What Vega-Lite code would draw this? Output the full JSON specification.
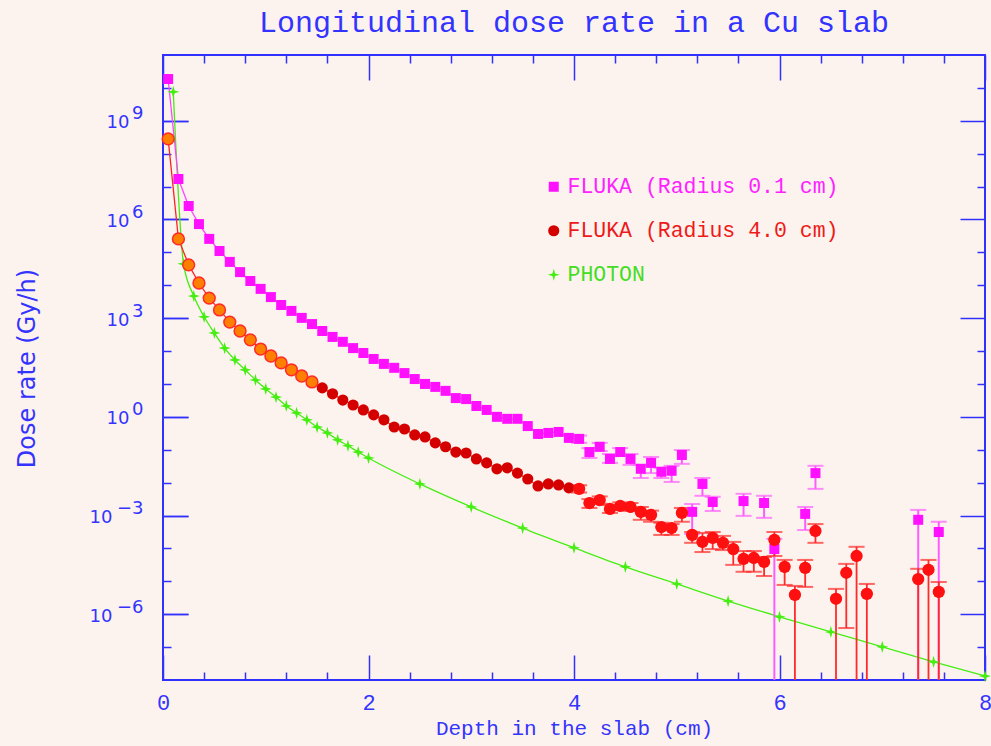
{
  "$schema": "https://vega.github.io/schema/vega-lite/v6.json",
  "width": 822,
  "height": 625,
  "autosize": {"type": "none"},
  "padding": {"left": 163, "top": 55, "right": 6, "bottom": 66},
  "background": "#fdf3ee",
  "title": {
    "text": "Longitudinal dose rate in a Cu slab",
    "font": "Liberation Mono",
    "fontSize": 30,
    "fontWeight": "normal",
    "color": "#3333ff",
    "anchor": "middle",
    "frame": "group",
    "baseline": "alphabetic",
    "offset": 22,
    "dy": 30
  },
  "data": {
    "values": [
      {"series": "FLUKA (Radius 0.1 cm)", "depth": 0.05, "dose": 1.86e10},
      {"series": "FLUKA (Radius 0.1 cm)", "depth": 0.15, "dose": 1.70e7},
      {"series": "FLUKA (Radius 0.1 cm)", "depth": 0.25, "dose": 2.57e6},
      {"series": "FLUKA (Radius 0.1 cm)", "depth": 0.35, "dose": 7.24e5},
      {"series": "FLUKA (Radius 0.1 cm)", "depth": 0.45, "dose": 2.57e5},
      {"series": "FLUKA (Radius 0.1 cm)", "depth": 0.55, "dose": 1.10e5},
      {"series": "FLUKA (Radius 0.1 cm)", "depth": 0.65, "dose": 5.13e4},
      {"series": "FLUKA (Radius 0.1 cm)", "depth": 0.75, "dose": 2.51e4},
      {"series": "FLUKA (Radius 0.1 cm)", "depth": 0.85, "dose": 1.35e4},
      {"series": "FLUKA (Radius 0.1 cm)", "depth": 0.95, "dose": 7760},
      {"series": "FLUKA (Radius 0.1 cm)", "depth": 1.05, "dose": 4370},
      {"series": "FLUKA (Radius 0.1 cm)", "depth": 1.15, "dose": 2510},
      {"series": "FLUKA (Radius 0.1 cm)", "depth": 1.25, "dose": 1660},
      {"series": "FLUKA (Radius 0.1 cm)", "depth": 1.35, "dose": 1020},
      {"series": "FLUKA (Radius 0.1 cm)", "depth": 1.45, "dose": 661},
      {"series": "FLUKA (Radius 0.1 cm)", "depth": 1.55, "dose": 407},
      {"series": "FLUKA (Radius 0.1 cm)", "depth": 1.65, "dose": 269},
      {"series": "FLUKA (Radius 0.1 cm)", "depth": 1.75, "dose": 191},
      {"series": "FLUKA (Radius 0.1 cm)", "depth": 1.85, "dose": 123},
      {"series": "FLUKA (Radius 0.1 cm)", "depth": 1.95, "dose": 87.1},
      {"series": "FLUKA (Radius 0.1 cm)", "depth": 2.05, "dose": 57.5},
      {"series": "FLUKA (Radius 0.1 cm)", "depth": 2.15, "dose": 40.7},
      {"series": "FLUKA (Radius 0.1 cm)", "depth": 2.25, "dose": 30.9},
      {"series": "FLUKA (Radius 0.1 cm)", "depth": 2.35, "dose": 21.4},
      {"series": "FLUKA (Radius 0.1 cm)", "depth": 2.45, "dose": 14.1},
      {"series": "FLUKA (Radius 0.1 cm)", "depth": 2.55, "dose": 10.0},
      {"series": "FLUKA (Radius 0.1 cm)", "depth": 2.65, "dose": 8.13},
      {"series": "FLUKA (Radius 0.1 cm)", "depth": 2.75, "dose": 6.17},
      {"series": "FLUKA (Radius 0.1 cm)", "depth": 2.85, "dose": 3.72},
      {"series": "FLUKA (Radius 0.1 cm)", "depth": 2.95, "dose": 3.47},
      {"series": "FLUKA (Radius 0.1 cm)", "depth": 3.05, "dose": 2.14},
      {"series": "FLUKA (Radius 0.1 cm)", "depth": 3.15, "dose": 1.62},
      {"series": "FLUKA (Radius 0.1 cm)", "depth": 3.25, "dose": 1.0},
      {"series": "FLUKA (Radius 0.1 cm)", "depth": 3.35, "dose": 0.871},
      {"series": "FLUKA (Radius 0.1 cm)", "depth": 3.45, "dose": 0.871},
      {"series": "FLUKA (Radius 0.1 cm)", "depth": 3.55, "dose": 0.525},
      {"series": "FLUKA (Radius 0.1 cm)", "depth": 3.65, "dose": 0.302},
      {"series": "FLUKA (Radius 0.1 cm)", "depth": 3.75, "dose": 0.324},
      {"series": "FLUKA (Radius 0.1 cm)", "depth": 3.85, "dose": 0.347},
      {"series": "FLUKA (Radius 0.1 cm)", "depth": 3.95, "dose": 0.229},
      {"series": "FLUKA (Radius 0.1 cm)", "depth": 4.05, "dose": 0.214, "hi": 0.269, "lo": 0.162},
      {"series": "FLUKA (Radius 0.1 cm)", "depth": 4.15, "dose": 0.0851, "hi": 0.112, "lo": 0.0562},
      {"series": "FLUKA (Radius 0.1 cm)", "depth": 4.25, "dose": 0.123, "hi": 0.162, "lo": 0.0912},
      {"series": "FLUKA (Radius 0.1 cm)", "depth": 4.35, "dose": 0.0525, "hi": 0.0741, "lo": 0.0398},
      {"series": "FLUKA (Radius 0.1 cm)", "depth": 4.45, "dose": 0.0851, "hi": 0.112, "lo": 0.0646},
      {"series": "FLUKA (Radius 0.1 cm)", "depth": 4.55, "dose": 0.0525, "hi": 0.0741, "lo": 0.0347},
      {"series": "FLUKA (Radius 0.1 cm)", "depth": 4.65, "dose": 0.0263, "hi": 0.0347, "lo": 0.0138},
      {"series": "FLUKA (Radius 0.1 cm)", "depth": 4.75, "dose": 0.0398, "hi": 0.0603, "lo": 0.0195},
      {"series": "FLUKA (Radius 0.1 cm)", "depth": 4.85, "dose": 0.0214, "hi": 0.0282, "lo": 0.0138},
      {"series": "FLUKA (Radius 0.1 cm)", "depth": 4.95, "dose": 0.0229, "hi": 0.0324, "lo": 0.0105},
      {"series": "FLUKA (Radius 0.1 cm)", "depth": 5.05, "dose": 0.0692, "hi": 0.0977, "lo": 0.0372},
      {"series": "FLUKA (Radius 0.1 cm)", "depth": 5.15, "dose": 0.00129, "hi": 0.00224, "lo": 0.000275},
      {"series": "FLUKA (Radius 0.1 cm)", "depth": 5.25, "dose": 0.00912, "hi": 0.0138, "lo": 0.00398},
      {"series": "FLUKA (Radius 0.1 cm)", "depth": 5.35, "dose": 0.00257, "hi": 0.00372, "lo": 0.00138},
      {"series": "FLUKA (Radius 0.1 cm)", "depth": 5.65, "dose": 0.00275, "hi": 0.00457, "lo": 0.000977},
      {"series": "FLUKA (Radius 0.1 cm)", "depth": 5.85, "dose": 0.0024, "hi": 0.00398, "lo": 0.000851},
      {"series": "FLUKA (Radius 0.1 cm)", "depth": 5.95, "dose": 0.0000955, "hi": 0.000195, "lo": 1e-12},
      {"series": "FLUKA (Radius 0.1 cm)", "depth": 6.25, "dose": 0.00112, "hi": 0.00182, "lo": 0.000363},
      {"series": "FLUKA (Radius 0.1 cm)", "depth": 6.35, "dose": 0.0195, "hi": 0.0324, "lo": 0.00646},
      {"series": "FLUKA (Radius 0.1 cm)", "depth": 7.35, "dose": 0.000741, "hi": 0.00148, "lo": 1e-12},
      {"series": "FLUKA (Radius 0.1 cm)", "depth": 7.55, "dose": 0.000316, "hi": 0.000646, "lo": 1e-12},

      {"series": "FLUKA (Radius 4.0 cm)", "depth": 0.05, "dose": 2.82e8},
      {"series": "FLUKA (Radius 4.0 cm)", "depth": 0.15, "dose": 2.57e5},
      {"series": "FLUKA (Radius 4.0 cm)", "depth": 0.25, "dose": 4.17e4},
      {"series": "FLUKA (Radius 4.0 cm)", "depth": 0.35, "dose": 1.17e4},
      {"series": "FLUKA (Radius 4.0 cm)", "depth": 0.45, "dose": 4070},
      {"series": "FLUKA (Radius 4.0 cm)", "depth": 0.55, "dose": 1780},
      {"series": "FLUKA (Radius 4.0 cm)", "depth": 0.65, "dose": 759},
      {"series": "FLUKA (Radius 4.0 cm)", "depth": 0.75, "dose": 407},
      {"series": "FLUKA (Radius 4.0 cm)", "depth": 0.85, "dose": 219},
      {"series": "FLUKA (Radius 4.0 cm)", "depth": 0.95, "dose": 115},
      {"series": "FLUKA (Radius 4.0 cm)", "depth": 1.05, "dose": 70.8},
      {"series": "FLUKA (Radius 4.0 cm)", "depth": 1.15, "dose": 43.7},
      {"series": "FLUKA (Radius 4.0 cm)", "depth": 1.25, "dose": 26.9},
      {"series": "FLUKA (Radius 4.0 cm)", "depth": 1.35, "dose": 17.4},
      {"series": "FLUKA (Radius 4.0 cm)", "depth": 1.45, "dose": 11.5},
      {"series": "FLUKA (Radius 4.0 cm)", "depth": 1.55, "dose": 7.59},
      {"series": "FLUKA (Radius 4.0 cm)", "depth": 1.65, "dose": 5.01},
      {"series": "FLUKA (Radius 4.0 cm)", "depth": 1.75, "dose": 3.24},
      {"series": "FLUKA (Radius 4.0 cm)", "depth": 1.85, "dose": 2.29},
      {"series": "FLUKA (Radius 4.0 cm)", "depth": 1.95, "dose": 1.62},
      {"series": "FLUKA (Radius 4.0 cm)", "depth": 2.05, "dose": 1.15},
      {"series": "FLUKA (Radius 4.0 cm)", "depth": 2.15, "dose": 0.813},
      {"series": "FLUKA (Radius 4.0 cm)", "depth": 2.25, "dose": 0.49},
      {"series": "FLUKA (Radius 4.0 cm)", "depth": 2.35, "dose": 0.427},
      {"series": "FLUKA (Radius 4.0 cm)", "depth": 2.45, "dose": 0.282},
      {"series": "FLUKA (Radius 4.0 cm)", "depth": 2.55, "dose": 0.245},
      {"series": "FLUKA (Radius 4.0 cm)", "depth": 2.65, "dose": 0.162},
      {"series": "FLUKA (Radius 4.0 cm)", "depth": 2.75, "dose": 0.123},
      {"series": "FLUKA (Radius 4.0 cm)", "depth": 2.85, "dose": 0.0851},
      {"series": "FLUKA (Radius 4.0 cm)", "depth": 2.95, "dose": 0.0794},
      {"series": "FLUKA (Radius 4.0 cm)", "depth": 3.05, "dose": 0.0525},
      {"series": "FLUKA (Radius 4.0 cm)", "depth": 3.15, "dose": 0.0398},
      {"series": "FLUKA (Radius 4.0 cm)", "depth": 3.25, "dose": 0.0263},
      {"series": "FLUKA (Radius 4.0 cm)", "depth": 3.35, "dose": 0.0282},
      {"series": "FLUKA (Radius 4.0 cm)", "depth": 3.45, "dose": 0.0195},
      {"series": "FLUKA (Radius 4.0 cm)", "depth": 3.55, "dose": 0.0129},
      {"series": "FLUKA (Radius 4.0 cm)", "depth": 3.65, "dose": 0.00794},
      {"series": "FLUKA (Radius 4.0 cm)", "depth": 3.75, "dose": 0.00912},
      {"series": "FLUKA (Radius 4.0 cm)", "depth": 3.85, "dose": 0.00851},
      {"series": "FLUKA (Radius 4.0 cm)", "depth": 3.95, "dose": 0.00692},
      {"series": "FLUKA (Radius 4.0 cm)", "depth": 4.05, "dose": 0.00646, "hi": 0.00832, "lo": 0.00501},
      {"series": "FLUKA (Radius 4.0 cm)", "depth": 4.15, "dose": 0.0024, "hi": 0.00316, "lo": 0.0017},
      {"series": "FLUKA (Radius 4.0 cm)", "depth": 4.25, "dose": 0.00295, "hi": 0.0038, "lo": 0.00229},
      {"series": "FLUKA (Radius 4.0 cm)", "depth": 4.35, "dose": 0.00158, "hi": 0.00209, "lo": 0.0012},
      {"series": "FLUKA (Radius 4.0 cm)", "depth": 4.45, "dose": 0.00195, "hi": 0.00251, "lo": 0.00148},
      {"series": "FLUKA (Radius 4.0 cm)", "depth": 4.55, "dose": 0.00182, "hi": 0.0024, "lo": 0.00138},
      {"series": "FLUKA (Radius 4.0 cm)", "depth": 4.65, "dose": 0.00129, "hi": 0.00182, "lo": 0.000741},
      {"series": "FLUKA (Radius 4.0 cm)", "depth": 4.75, "dose": 0.00105, "hi": 0.00141, "lo": 0.000646},
      {"series": "FLUKA (Radius 4.0 cm)", "depth": 4.85, "dose": 0.000447, "hi": 0.000603, "lo": 0.000257},
      {"series": "FLUKA (Radius 4.0 cm)", "depth": 4.95, "dose": 0.000417, "hi": 0.00055, "lo": 0.000257},
      {"series": "FLUKA (Radius 4.0 cm)", "depth": 5.05, "dose": 0.0012, "hi": 0.0017, "lo": 0.000646},
      {"series": "FLUKA (Radius 4.0 cm)", "depth": 5.15, "dose": 0.000257, "hi": 0.000316, "lo": 0.000148},
      {"series": "FLUKA (Radius 4.0 cm)", "depth": 5.25, "dose": 0.000158, "hi": 0.000295, "lo": 0.0000776},
      {"series": "FLUKA (Radius 4.0 cm)", "depth": 5.35, "dose": 0.000209, "hi": 0.000316, "lo": 0.0000955},
      {"series": "FLUKA (Radius 4.0 cm)", "depth": 5.45, "dose": 0.000148, "hi": 0.00024, "lo": 0.0000891},
      {"series": "FLUKA (Radius 4.0 cm)", "depth": 5.55, "dose": 0.0000955, "hi": 0.000158, "lo": 0.0000316},
      {"series": "FLUKA (Radius 4.0 cm)", "depth": 5.65, "dose": 0.0000479, "hi": 0.0000832, "lo": 0.0000195},
      {"series": "FLUKA (Radius 4.0 cm)", "depth": 5.75, "dose": 0.0000513, "hi": 0.0000832, "lo": 0.0000195},
      {"series": "FLUKA (Radius 4.0 cm)", "depth": 5.85, "dose": 0.0000389, "hi": 0.000055, "lo": 0.0000145},
      {"series": "FLUKA (Radius 4.0 cm)", "depth": 5.95, "dose": 0.000182, "hi": 0.000316, "lo": 0.0000589},
      {"series": "FLUKA (Radius 4.0 cm)", "depth": 6.05, "dose": 0.0000275, "hi": 0.0000447, "lo": 0.00000776},
      {"series": "FLUKA (Radius 4.0 cm)", "depth": 6.15, "dose": 0.00000389, "hi": 0.00000724, "lo": 1e-12},
      {"series": "FLUKA (Radius 4.0 cm)", "depth": 6.25, "dose": 0.0000257, "hi": 0.0000447, "lo": 0.00000676},
      {"series": "FLUKA (Radius 4.0 cm)", "depth": 6.35, "dose": 0.000339, "hi": 0.00055, "lo": 0.000148},
      {"series": "FLUKA (Radius 4.0 cm)", "depth": 6.55, "dose": 0.00000295, "hi": 0.00000589, "lo": 1e-12},
      {"series": "FLUKA (Radius 4.0 cm)", "depth": 6.65, "dose": 0.0000182, "hi": 0.0000339, "lo": 0.00000038},
      {"series": "FLUKA (Radius 4.0 cm)", "depth": 6.75, "dose": 0.0000589, "hi": 0.000112, "lo": 1e-12},
      {"series": "FLUKA (Radius 4.0 cm)", "depth": 6.85, "dose": 0.00000417, "hi": 0.00000832, "lo": 1e-12},
      {"series": "FLUKA (Radius 4.0 cm)", "depth": 7.35, "dose": 0.0000117, "hi": 0.000024, "lo": 1e-12},
      {"series": "FLUKA (Radius 4.0 cm)", "depth": 7.45, "dose": 0.0000224, "hi": 0.0000447, "lo": 1e-12},
      {"series": "FLUKA (Radius 4.0 cm)", "depth": 7.55, "dose": 0.00000479, "hi": 0.00000955, "lo": 1e-12},

      {"series": "PHOTON", "depth": 0.1, "dose": 7.59e9},
      {"series": "PHOTON", "depth": 0.2, "dose": 4.47e4},
      {"series": "PHOTON", "depth": 0.3, "dose": 4680},
      {"series": "PHOTON", "depth": 0.4, "dose": 1100},
      {"series": "PHOTON", "depth": 0.5, "dose": 355},
      {"series": "PHOTON", "depth": 0.6, "dose": 123},
      {"series": "PHOTON", "depth": 0.7, "dose": 53.7},
      {"series": "PHOTON", "depth": 0.8, "dose": 26.9},
      {"series": "PHOTON", "depth": 0.9, "dose": 13.2},
      {"series": "PHOTON", "depth": 1.0, "dose": 7.08},
      {"series": "PHOTON", "depth": 1.1, "dose": 3.98},
      {"series": "PHOTON", "depth": 1.2, "dose": 2.14},
      {"series": "PHOTON", "depth": 1.3, "dose": 1.32},
      {"series": "PHOTON", "depth": 1.4, "dose": 0.813},
      {"series": "PHOTON", "depth": 1.5, "dose": 0.49},
      {"series": "PHOTON", "depth": 1.6, "dose": 0.324},
      {"series": "PHOTON", "depth": 1.7, "dose": 0.2},
      {"series": "PHOTON", "depth": 1.8, "dose": 0.132},
      {"series": "PHOTON", "depth": 1.9, "dose": 0.0851},
      {"series": "PHOTON", "depth": 2.0, "dose": 0.0562},
      {"series": "PHOTON", "depth": 2.5, "dose": 0.00912},
      {"series": "PHOTON", "depth": 3.0, "dose": 0.00182},
      {"series": "PHOTON", "depth": 3.5, "dose": 0.000417},
      {"series": "PHOTON", "depth": 4.0, "dose": 0.000105},
      {"series": "PHOTON", "depth": 4.5, "dose": 0.0000275},
      {"series": "PHOTON", "depth": 5.0, "dose": 0.00000832},
      {"series": "PHOTON", "depth": 5.5, "dose": 0.00000251},
      {"series": "PHOTON", "depth": 6.0, "dose": 8.32e-7},
      {"series": "PHOTON", "depth": 6.5, "dose": 2.88e-7},
      {"series": "PHOTON", "depth": 7.0, "dose": 1.02e-7},
      {"series": "PHOTON", "depth": 7.5, "dose": 3.55e-8},
      {"series": "PHOTON", "depth": 8.0, "dose": 1.32e-8}
    ]
  },
  "resolve": {"axis": {"x": "independent", "y": "independent"}},
  "layer": [
    {
      "transform": [{"filter": "datum.series == 'PHOTON'"}],
      "mark": {"type": "line", "color": "#44ee11", "strokeWidth": 1.3, "interpolate": "monotone"},
      "encoding": {
        "x": {
          "field": "depth", "type": "quantitative",
          "scale": {"domain": [0, 8], "nice": false, "zero": false},
          "axis": {
            "orient": "bottom",
            "values": [0, 0.4, 0.8, 1.2, 1.6, 2, 2.4, 2.8, 3.2, 3.6, 4, 4.4, 4.8, 5.2, 5.6, 6, 6.4, 6.8, 7.2, 7.6, 8],
            "tickSize": {"condition": {"test": "datum.value % 2 == 0", "value": -25}, "value": -8},
            "labelExpr": "datum.value % 2 == 0 ? '' + datum.value : ''",
            "labelFont": "Liberation Mono", "labelFontSize": 22, "labelPadding": 37,
            "labelFlush": false, "labelOverlap": false, "labelBound": false,
            "title": "Depth in the slab (cm)",
            "titleFont": "Liberation Mono", "titleFontSize": 21, "titleFontWeight": "normal",
            "titleY": 48, "titleBaseline": "middle"
          }
        },
        "y": {
          "field": "dose", "type": "quantitative",
          "scale": {"type": "log", "domain": [1e-8, 1e11], "nice": false},
          "axis": {
            "orient": "left",
            "values": [1e-7, 1e-6, 1e-5, 1e-4, 1e-3, 1e-2, 1e-1, 1, 10, 100, 1000, 1e4, 1e5, 1e6, 1e7, 1e8, 1e9, 1e10],
            "tickSize": {"condition": {"test": "abs(round(log(datum.value)/LN10)) % 3 == 0", "value": -25}, "value": -8},
            "labelExpr": "abs(round(log(datum.value)/LN10)) % 3 == 0 ? '10' : ''",
            "labelFont": "DejaVu Sans", "labelFontSize": 18,
            "labelPadding": {"condition": {"test": "datum.value < 0.5", "value": 76}, "value": 59},
            "labelOffset": 2,
            "labelOverlap": false,
            "title": "Dose rate (Gy/h)",
            "titleFont": "DejaVu Sans", "titleFontSize": 24, "titleFontWeight": "normal",
            "titleX": -136, "titleY": 313, "titleAlign": "center", "titleBaseline": "middle", "titleAngle": -90
          }
        }
      }
    },
    {
      "transform": [{"filter": "datum.series == 'FLUKA (Radius 0.1 cm)' && datum.depth < 4.1"}],
      "mark": {"type": "line", "color": "#ff44ff", "strokeWidth": 1.3},
      "encoding": {
        "x": {
          "field": "depth", "type": "quantitative",
          "scale": {"domain": [0, 8], "nice": false, "zero": false},
          "axis": {
            "orient": "top",
            "values": [0, 0.4, 0.8, 1.2, 1.6, 2, 2.4, 2.8, 3.2, 3.6, 4, 4.4, 4.8, 5.2, 5.6, 6, 6.4, 6.8, 7.2, 7.6, 8],
            "tickSize": {"condition": {"test": "datum.value % 2 == 0", "value": -25}, "value": -8},
            "labels": false, "title": null
          }
        },
        "y": {
          "field": "dose", "type": "quantitative",
          "scale": {"type": "log", "domain": [1e-8, 1e11], "nice": false},
          "axis": {
            "orient": "right",
            "values": [1e-7, 1e-6, 1e-5, 1e-4, 1e-3, 1e-2, 1e-1, 1, 10, 100, 1000, 1e4, 1e5, 1e6, 1e7, 1e8, 1e9, 1e10],
            "tickSize": {"condition": {"test": "abs(round(log(datum.value)/LN10)) % 3 == 0", "value": -25}, "value": -8},
            "labels": false, "title": null
          }
        }
      }
    },
    {
      "transform": [{"filter": "datum.series == 'FLUKA (Radius 4.0 cm)' && datum.depth < 4.1"}],
      "mark": {"type": "line", "color": "#ff2222", "strokeWidth": 1.3},
      "encoding": {
        "x": {"field": "depth", "type": "quantitative", "axis": null},
        "y": {
          "field": "dose", "type": "quantitative", "scale": {"type": "log"},
          "axis": {
            "orient": "left",
            "values": [1e-6, 1e-3, 1, 1000, 1e6, 1e9],
            "tickSize": -25,
            "labelExpr": "(round(log(datum.value)/LN10) < 0 ? '−' : '') + abs(round(log(datum.value)/LN10))",
            "labelFont": "DejaVu Sans", "labelFontSize": 18,
            "labelPadding": 45, "labelOffset": -7, "labelAlign": "right",
            "labelOverlap": false, "title": null
          }
        }
      }
    },
    {
      "transform": [{"filter": "datum.series == 'FLUKA (Radius 0.1 cm)' && isValid(datum.hi)"}],
      "mark": {"type": "rule", "color": "#ff5cff", "strokeWidth": 2, "clip": true},
      "encoding": {
        "x": {"field": "depth", "type": "quantitative", "axis": null},
        "y": {"field": "hi", "type": "quantitative", "scale": {"type": "log"}, "axis": null},
        "y2": {"field": "lo"}
      }
    },
    {
      "transform": [{"filter": "datum.series == 'FLUKA (Radius 0.1 cm)' && isValid(datum.hi)"}],
      "mark": {"type": "tick", "orient": "horizontal", "color": "#ff5cff", "size": 16, "thickness": 2, "clip": true},
      "encoding": {
        "x": {"field": "depth", "type": "quantitative", "axis": null},
        "y": {"field": "hi", "type": "quantitative", "scale": {"type": "log"}, "axis": null}
      }
    },
    {
      "transform": [{"filter": "datum.series == 'FLUKA (Radius 0.1 cm)' && isValid(datum.hi)"}],
      "mark": {"type": "tick", "orient": "horizontal", "color": "#ff5cff", "size": 16, "thickness": 2, "clip": true},
      "encoding": {
        "x": {"field": "depth", "type": "quantitative", "axis": null},
        "y": {"field": "lo", "type": "quantitative", "scale": {"type": "log"}, "axis": null}
      }
    },
    {
      "transform": [{"filter": "datum.series == 'FLUKA (Radius 4.0 cm)' && isValid(datum.hi)"}],
      "mark": {"type": "rule", "color": "#ff2a2a", "strokeWidth": 1.8, "clip": true},
      "encoding": {
        "x": {"field": "depth", "type": "quantitative", "axis": null},
        "y": {"field": "hi", "type": "quantitative", "scale": {"type": "log"}, "axis": null},
        "y2": {"field": "lo"}
      }
    },
    {
      "transform": [{"filter": "datum.series == 'FLUKA (Radius 4.0 cm)' && isValid(datum.hi)"}],
      "mark": {"type": "tick", "orient": "horizontal", "color": "#ff2a2a", "size": 16, "thickness": 2, "clip": true},
      "encoding": {
        "x": {"field": "depth", "type": "quantitative", "axis": null},
        "y": {"field": "hi", "type": "quantitative", "scale": {"type": "log"}, "axis": null}
      }
    },
    {
      "transform": [{"filter": "datum.series == 'FLUKA (Radius 4.0 cm)' && isValid(datum.hi)"}],
      "mark": {"type": "tick", "orient": "horizontal", "color": "#ff2a2a", "size": 16, "thickness": 2, "clip": true},
      "encoding": {
        "x": {"field": "depth", "type": "quantitative", "axis": null},
        "y": {"field": "lo", "type": "quantitative", "scale": {"type": "log"}, "axis": null}
      }
    },
    {
      "mark": {"type": "point", "filled": true, "opacity": 1},
      "encoding": {
        "x": {"field": "depth", "type": "quantitative", "axis": null},
        "y": {"field": "dose", "type": "quantitative", "scale": {"type": "log"}, "axis": null},
        "color": {
          "field": "series", "type": "nominal",
          "scale": {
            "domain": ["FLUKA (Radius 0.1 cm)", "FLUKA (Radius 4.0 cm)", "PHOTON"],
            "range": ["#ff11ff", "#d40000", "#44ee11"]
          },
          "legend": {
            "title": null, "orient": "none", "legendX": 380, "legendY": 121,
            "padding": 0, "labelFont": "Liberation Mono", "labelFontSize": 21.5,
            "labelLimit": 500, "symbolSize": 80, "rowPadding": 21, "labelOffset": 3,
            "symbolStrokeWidth": 0,
            "labelColor": {"expr": "datum.label == 'PHOTON' ? '#44dd22' : (indexof(datum.label, '4.0') >= 0 ? '#ee1a1a' : '#ff22ff')"}
          }
        },
        "shape": {
          "field": "series", "type": "nominal",
          "scale": {
            "domain": ["FLUKA (Radius 0.1 cm)", "FLUKA (Radius 4.0 cm)", "PHOTON"],
            "range": ["square", "circle", "M0,-1L0.22,-0.22L1,0L0.22,0.22L0,1L-0.22,0.22L-1,0L-0.22,-0.22Z"]
          }
        },
        "size": {
          "field": "series", "type": "nominal",
          "scale": {
            "domain": ["FLUKA (Radius 0.1 cm)", "FLUKA (Radius 4.0 cm)", "PHOTON"],
            "range": [100, 150, 130]
          },
          "legend": null
        }
      }
    },
    {
      "transform": [{"filter": "datum.series == 'FLUKA (Radius 4.0 cm)' && datum.depth < 1.5"}],
      "mark": {"type": "circle", "fill": "#ff8000", "stroke": "#ff2a2a", "strokeWidth": 1.5, "opacity": 1, "size": 140},
      "encoding": {
        "x": {"field": "depth", "type": "quantitative", "axis": null},
        "y": {"field": "dose", "type": "quantitative", "scale": {"type": "log"}, "axis": null}
      }
    },
    {
      "transform": [{"filter": "datum.series == 'FLUKA (Radius 4.0 cm)' && datum.depth > 4"}],
      "mark": {"type": "circle", "fill": "#ff1010", "opacity": 1, "size": 150},
      "encoding": {
        "x": {"field": "depth", "type": "quantitative", "axis": null},
        "y": {"field": "dose", "type": "quantitative", "scale": {"type": "log"}, "axis": null}
      }
    }
  ],
  "config": {
    "view": {"stroke": "#3030ff", "strokeWidth": 2, "fill": "#fdf3ee"},
    "axis": {
      "domain": false, "grid": false,
      "tickColor": "#3030ff", "tickWidth": 1.5,
      "labelColor": "#3434ff", "titleColor": "#3434ff"
    }
  }
}
